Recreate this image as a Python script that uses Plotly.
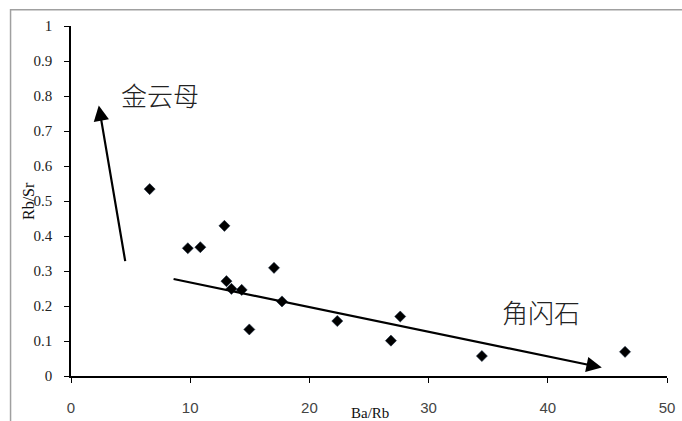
import plotly.graph_objects as go

# Data
ba_rb = [6.6, 9.8, 10.85, 12.87, 13.04, 13.46, 14.32, 14.96, 17.03, 17.7, 22.34, 26.84, 27.62, 34.47, 46.48]
rb_sr = [0.534, 0.365, 0.368, 0.429, 0.271, 0.249, 0.246, 0.133, 0.309, 0.213, 0.157, 0.101, 0.170, 0.057, 0.069]

x_ticks = [0, 10, 20, 30, 40, 50]
y_ticks = [0, 0.1, 0.2, 0.3, 0.4, 0.5, 0.6, 0.7, 0.8, 0.9, 1]
y_tick_text = ["0", "0.1", "0.2", "0.3", "0.4", "0.5", "0.6", "0.7", "0.8", "0.9", "1"]

# trend arrows (tail -> head) in data units
phlogopite_tail = (4.57, 0.324)
phlogopite_head = (2.33, 0.773)
hornblende_tail = (8.48, 0.278)
hornblende_head = (44.53, 0.024)

labels = {"金云母": (7.5, 0.805), "角闪石": (39.4, 0.184)}

fig = go.Figure()
fig.add_trace(go.Scatter(
    x=ba_rb, y=rb_sr, mode="markers",
    marker=dict(symbol="diamond", size=8.5, color="black",
                line=dict(color="#1a2a40", width=0.6)),
    showlegend=False, hoverinfo="x+y",
))

tick_font_y = dict(family="Liberation Serif, Times New Roman, serif", size=15, color="#222")
tick_font_x = dict(family="Liberation Sans Narrow, Liberation Sans, Arial, sans-serif", size=15, color="#444")

L, R, T, B = 70.5, 15, 25.7, 45.3
fig.update_layout(
    width=682, height=421,
    margin=dict(l=L, r=R, t=T, b=B),
    paper_bgcolor="white", plot_bgcolor="white",
    xaxis=dict(range=[0, 50], tickvals=x_ticks, ticktext=[str(v) for v in x_ticks],
               showgrid=False, zeroline=False, showline=True, linecolor="black", linewidth=1.5,
               ticks="outside", ticklen=5, tickwidth=1.2, tickcolor="black", automargin=False,
               tickfont=tick_font_x, ticklabelstandoff=12),
    yaxis=dict(range=[0, 1], tickvals=y_ticks, ticktext=y_tick_text,
               showgrid=False, zeroline=False, showline=True, linecolor="black", linewidth=1.5,
               ticks="outside", ticklen=5, tickwidth=1.2, tickcolor="black", automargin=False,
               tickfont=tick_font_y, ticklabelstandoff=9),
    font=dict(family="Liberation Serif, serif"),
)

# Axis titles
fig.add_annotation(text="Ba/Rb", xref="paper", yref="paper", x=0.502, y=0, yshift=-37,
                   showarrow=False, yanchor="middle",
                   font=dict(family="Liberation Serif, Times New Roman, serif", size=15, color="#111"))
fig.add_annotation(text="Rb/Sr", xref="paper", yref="paper", x=0, xshift=-43, y=0.5,
                   showarrow=False, textangle=-90, xanchor="center",
                   font=dict(family="Liberation Serif, Times New Roman, serif", size=16, color="#111"))

# Arrows
for tail, head in [(phlogopite_tail, phlogopite_head), (hornblende_tail, hornblende_head)]:
    fig.add_annotation(x=head[0], y=head[1], ax=tail[0], ay=tail[1],
                       xref="x", yref="y", axref="x", ayref="y",
                       text="", showarrow=True, arrowhead=2, arrowsize=1.4,
                       arrowwidth=2.2, arrowcolor="black", standoff=0)

# Mineral labels
for name, (lx, ly) in labels.items():
    fig.add_annotation(x=lx, y=ly, xref="x", yref="y", text=name, showarrow=False,
                       font=dict(family="Noto Sans CJK SC, sans-serif", size=26, color="#222", weight=300))

# Outer chart border (partly cropped at right/bottom)
pw, ph = 682 - L - R, 421 - T - B
fig.add_shape(type="rect", xref="paper", yref="paper",
              x0=(10 - L) / pw, x1=1.05, y0=-0.2, y1=1 + (T - 9.5) / ph,
              line=dict(color="#a0a0a0", width=1.5), fillcolor="rgba(0,0,0,0)", layer="below")

fig.write_html("out.html", config={"displayModeBar": False},
               post_script="document.body.style.margin='0';document.body.style.overflow='hidden';")
